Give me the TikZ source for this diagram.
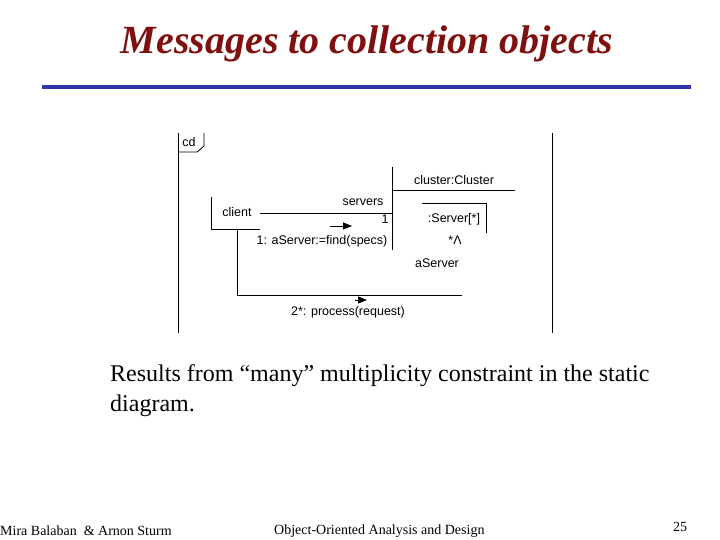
\documentclass[tikz,border=0pt]{standalone}
\usepackage{fontspec}
\setmainfont{Liberation Serif}
\newfontfamily\umlfont{Liberation Sans}
\usepackage{tikz}
\usetikzlibrary{arrows.meta,positioning,calc}

\definecolor{titlered}{RGB}{128,16,16}
\definecolor{rulecol}{RGB}{51,51,170}

\begin{document}
\begin{tikzpicture}[
    x=1pt, y=-1pt,
    uml/.style={inner sep=0pt, font=\umlfont\fontsize{12.5}{14}\selectfont},
    lifeline/.style={line width=0.8pt},
    msg/.style={line width=0.8pt, -{Triangle[length=9pt,width=7pt]}},
    foot/.style={inner sep=0pt, font=\fontsize{14}{16}\selectfont}
]
    \useasboundingbox (0,0) rectangle (720,540);

    % title and rule
    \node[text=titlered, font=\fontsize{40}{44}\selectfont\bfseries\itshape] (title) at (367,44) {Messages to collection objects};
    \coordinate (ruleL) at (42,87);
    \coordinate (ruleR) at (691,87);
    \draw[rulecol, line width=4pt] (ruleL) -- (ruleR);

    % frame
    \coordinate (frameTL) at (178,133);
    \coordinate (frameBL) at (178,333);
    \coordinate (frameTR) at (552,133);
    \coordinate (frameBR) at (552,333);
    \draw[lifeline] (frameTL) -- (frameBL);
    \draw[lifeline] (frameTR) -- (frameBR);
    \node[uml] (cd) at (189,142) {cd};
    \draw[lifeline] (178,152) -- (197,152) -- (204,146) -- (204,133);

    % client
    \node[uml] (client) at (237,212) {client};
    \coordinate (clientTop) at (211,197);
    \coordinate (clientCorner) at (211,229);
    \coordinate (clientEnd) at (260,229);
    \draw[lifeline] (clientTop) -- (clientCorner) -- (clientEnd);

    % cluster
    \node[uml] (cluster) at (454,180) {cluster:Cluster};
    \coordinate (clusterTop) at (392,167);
    \coordinate (clusterBot) at (392,250);
    \coordinate (clusterLine) at (392,190);
    \coordinate (clusterEnd) at (515,190);
    \draw[lifeline] (clusterTop) -- (clusterBot);
    \draw[lifeline] (clusterLine) -- (clusterEnd);

    % server collection
    \node[uml] (server) at (454,219) {:Server[*]};
    \draw[lifeline] (422,203) -- (486,203) -- (486,233);
    \node[uml] (mult) at (455,240) {*Λ};
    \node[uml] (aserver) at (437,263) {aServer};

    % link client -- cluster
    \coordinate (linkA) at (260,213);
    \coordinate (linkB) at (392,213);
    \draw[lifeline] (linkA) -- (linkB);
    \node[uml] (servers) at (363,202) {servers};
    \node[uml] (one) at (385,219) {1};
    \coordinate (m1a) at (330,226);
    \coordinate (m1b) at (352,226);
    \draw[msg] (m1a) -- (m1b);
    \node[uml] (find) at (322,241) {1: aServer:=find(specs)};

    % link client -- aServer
    \coordinate (clientDown) at (237,229);
    \coordinate (clientBend) at (237,295);
    \coordinate (linkEnd) at (462,295);
    \draw[lifeline] (clientDown) -- (clientBend) -- (linkEnd);
    \coordinate (m2a) at (355,300);
    \coordinate (m2b) at (367,300);
    \draw[msg] (m2a) -- (m2b);
    \node[uml] (process) at (348,312) {2*: process(request)};

    % text
    \node[anchor=north west, inner sep=0pt, align=left, font=\fontsize{24}{30}\selectfont] (note) at (110,364)
        {Results from “many” multiplicity constraint in the static\\diagram.};

    % footer
    \node[foot, anchor=west] (authors) at (0,531) {Mira Balaban \ \& Arnon Sturm};
    \node[foot, anchor=west] (course) at (274,531) {Object-Oriented Analysis and Design};
    \node[foot] (page) at (680,527) {25};
\end{tikzpicture}
\end{document}
